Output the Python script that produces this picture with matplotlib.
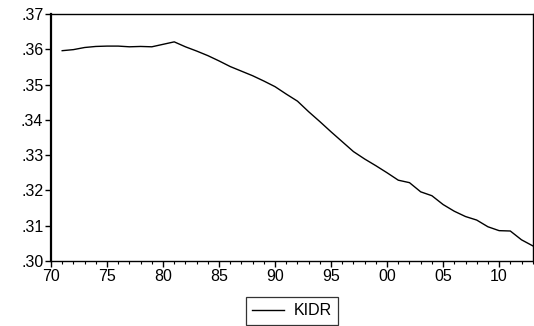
import matplotlib
matplotlib.use("Agg")
import matplotlib.pyplot as plt
from matplotlib.ticker import MultipleLocator, FixedLocator

years = list(range(1971, 2014))
kidr = [
    0.3596, 0.3599, 0.3605, 0.3608, 0.3609, 0.3609, 0.3607, 0.3608, 0.3607, 0.3614,
    0.3621, 0.3607, 0.3595, 0.3582, 0.3567, 0.3551, 0.3538, 0.3525, 0.3510, 0.3494,
    0.3473, 0.3453, 0.3423, 0.3395, 0.3366, 0.3338, 0.3310, 0.3289, 0.3270, 0.3250,
    0.3229, 0.3222, 0.3196, 0.3185, 0.3160, 0.3141, 0.3126, 0.3116, 0.3097, 0.3086,
    0.3085, 0.3060, 0.3043,
]
x_ticks = [1970, 1975, 1980, 1985, 1990, 1995, 2000, 2005, 2010]
x_labels = ["70", "75", "80", "85", "90", "95", "00", "05", "10"]
y_ticks = [0.30, 0.31, 0.32, 0.33, 0.34, 0.35, 0.36, 0.37]
y_labels = [".30", ".31", ".32", ".33", ".34", ".35", ".36", ".37"]

plt.rcParams["font.family"] = ["Liberation Sans", "DejaVu Sans"]
FS = 11.5

fig = plt.figure(figsize=(5.34, 3.26), dpi=100)
ax = fig.add_axes([0.0955, 0.1994, 0.9021, 0.7577])

ax.plot(years, kidr, color="black", linewidth=1.0, label="KIDR")

ax.set_xlim(1970, 2013)
ax.set_ylim(0.30, 0.37)
ax.xaxis.set_major_locator(FixedLocator(x_ticks))
ax.set_xticklabels(x_labels)
ax.xaxis.set_minor_locator(MultipleLocator(1))
ax.yaxis.set_major_locator(FixedLocator(y_ticks))
ax.set_yticklabels(y_labels)

ax.tick_params(axis="both", which="major", direction="out", length=4.5, width=1,
               labelsize=FS, colors="black")
ax.tick_params(axis="x", which="major", pad=1.5)
ax.tick_params(axis="y", which="major", pad=1.0)
ax.tick_params(axis="x", which="minor", direction="out", length=2.5, width=0.8)
ax.tick_params(axis="y", which="minor", left=False)

for side in ["left", "right", "top", "bottom"]:
    ax.spines[side].set_color("black")
    ax.spines[side].set_linewidth(1.0)
ax.spines["left"].set_linewidth(1.6)

leg = ax.legend(loc="upper center", bbox_to_anchor=(0.5, -0.146), frameon=True,
                fancybox=False, edgecolor="black", fontsize=FS, handlelength=2.0,
                handletextpad=0.6, borderpad=0.4, borderaxespad=0)
leg.get_frame().set_linewidth(0.9)

fig.savefig("out.png", dpi=100)
